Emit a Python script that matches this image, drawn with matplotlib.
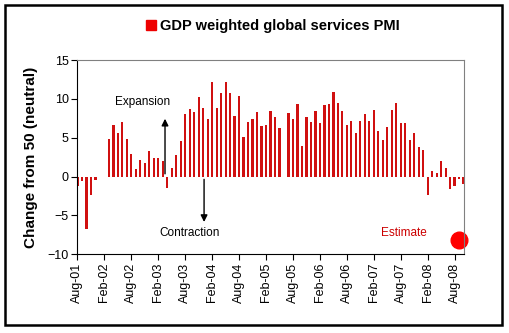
import numpy as np
import matplotlib.pyplot as plt
from matplotlib.patches import Patch, Rectangle

plt.rcParams['font.family'] = ['Liberation Sans', 'DejaVu Sans']

# monthly values, Aug-01 .. Oct-08 (nan = no data)
pmi_change = [-1.2, -0.6, -6.8, -2.4, -0.5, np.nan, np.nan, 4.8, 6.7, 5.6,
              7.0, 4.9, 2.9, 0.95, 2.1, 1.7, 3.3, 2.4, 2.4, 2.0,
              -1.5, 1.1, 2.8, 4.6, 8.1, 8.7, 8.35, 10.3, 8.8, 7.4,
              12.2, 8.85, 10.8, 12.2, 10.8, 7.8, 10.35, 5.05, 7.0, 7.4,
              8.25, 6.5, 6.7, 8.5, 7.7, 6.2, np.nan, 8.2, 7.4, 9.4,
              4.0, 7.65, 7.0, 8.4, 6.85, 9.2, 9.35, 10.9, 9.5, 8.5,
              6.65, 7.1, 5.55, 7.1, 8.1, 7.1, 8.55, 5.85, 4.7, 6.4,
              8.55, 9.5, 6.85, 6.85, 4.7, 5.55, 3.85, 3.4, -2.35, 0.75,
              0.5, 2.0, 1.05, -1.6, -1.15, -0.3, -0.9]
tick_labels = ['Aug-01', 'Feb-02', 'Aug-02', 'Feb-03', 'Aug-03', 'Feb-04', 'Aug-04',
               'Feb-05', 'Aug-05', 'Feb-06', 'Aug-06', 'Feb-07', 'Aug-07', 'Feb-08', 'Aug-08']
estimate_month = 85
estimate_value = -8.2

red = '#D01010'
months = np.arange(len(pmi_change))

fig = plt.figure(figsize=(5.1, 3.33), dpi=100)
ax = fig.add_axes([0.151, 0.2363, 0.758, 0.5835])

ax.bar(months, pmi_change, width=0.5, color=red)
ax.plot([estimate_month], [estimate_value], 'o', color='#FF0000', markersize=12, clip_on=False)

ax.set_xlim(-0.1, 86.0)
ax.set_ylim(-10, 15)
ax.set_yticks([-10, -5, 0, 5, 10, 15])
ax.set_xticks(np.arange(0, 6 * len(tick_labels), 6))
ax.set_xticklabels(tick_labels, rotation=90, fontsize=9)
ax.tick_params(axis='y', labelsize=9, length=4, direction='out', pad=2)
ax.tick_params(axis='x', length=4, direction='out', pad=2)

for s in ['top', 'right']:
    ax.spines[s].set_color('#808080')
for s in ['left', 'bottom']:
    ax.spines[s].set_color('black')

ax.set_ylabel('Change from 50 (neutral)', fontweight='bold', fontsize=11)
ax.yaxis.set_label_coords(-0.10, 0.5)

# arrows and notes
ax.annotate('', xy=(19.5, 7.8), xytext=(19.5, 0),
            arrowprops=dict(arrowstyle='-|>', color='black', lw=1, mutation_scale=10))
ax.annotate('', xy=(28.2, -6.2), xytext=(28.2, 0),
            arrowprops=dict(arrowstyle='-|>', color='black', lw=1, mutation_scale=10))
ax.text(14.6, 9.6, 'Expansion', ha='center', va='center', fontsize=8.5)
ax.text(24.9, -7.2, 'Contraction', ha='center', va='center', fontsize=8.5)
ax.text(72.6, -7.2, 'Estimate', ha='center', va='center', fontsize=8.5, color='#CC0000')

fig.legend(handles=[Patch(color='#EE0000', label='GDP weighted global services PMI')],
           loc='center', bbox_to_anchor=(0.535, 0.922), frameon=False,
           handlelength=0.7, handleheight=0.7, handletextpad=0.3,
           prop={'weight': 'bold', 'size': 10.5})

# chart border
fig.patches.append(Rectangle((5 / 510, 8 / 333), 497 / 510, 320 / 333, transform=fig.transFigure,
                             fill=False, edgecolor='black', linewidth=1.8))

plt.savefig('out.png', dpi=100)
